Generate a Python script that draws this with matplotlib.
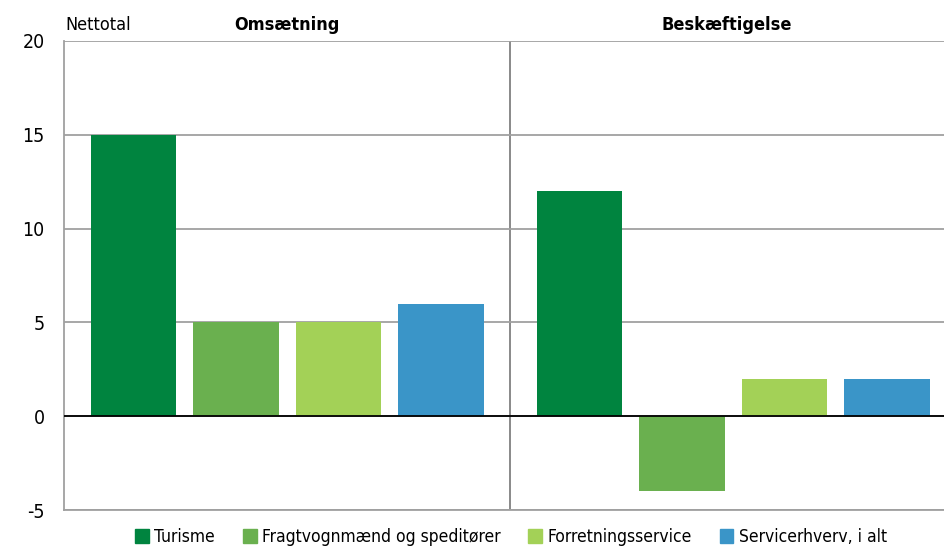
import numpy as np
import matplotlib.pyplot as plt
from matplotlib.patches import Patch

plt.rcParams['font.family'] = ['DejaVu Sans']
plt.rcParams['font.stretch'] = 'condensed'

groups = ["Omsætning", "Beskæftigelse"]
series = ["Turisme", "Fragtvognmænd og speditører", "Forretningsservice", "Servicerhverv, i alt"]
values = {
    "Omsætning": [15, 5, 5, 6],
    "Beskæftigelse": [12, -4, 2, 2],
}
colors = ["#00843f", "#6ab04f", "#a3d157", "#3a95c8"]
yticks = [-5, 0, 5, 10, 15, 20]

fig = plt.figure(figsize=(9.44, 5.47), dpi=100)
ax = fig.add_axes([64 / 944, 1 - 510 / 547, 880 / 944, 469 / 547])

group_offset = 4.351
width = 0.83
xmin, xmax = -0.678, 7.907
sep = 3.673
panel_centres = [(xmin + sep) / 2, (sep + xmax) / 2]
for g, name in enumerate(groups):
    x = np.arange(len(series)) + g * group_offset
    ax.bar(x, values[name], width=width, color=colors, zorder=2)
    ax.text(panel_centres[g], 20.6, name, ha="center", va="baseline",
            fontsize=13, fontweight="bold")

ax.set_xlim(xmin, xmax)
ax.set_ylim(-5, 20)
ax.set_yticks(yticks)
ax.set_yticklabels([str(t) for t in yticks], fontsize=14)
ax.tick_params(axis="y", length=0, pad=14)
ax.set_xticks([])
ax.grid(axis="y", color="#a0a0a0", linewidth=1.3, zorder=0)
ax.axhline(0, color="black", linewidth=1.3, zorder=3)
ax.axvline(sep, color="#808080", linewidth=1.3, zorder=1)

for side in ["top", "right"]:
    ax.spines[side].set_visible(False)
ax.spines["left"].set_color("#a0a0a0")
ax.spines["left"].set_linewidth(1.3)
ax.spines["bottom"].set_color("#a0a0a0")
ax.spines["bottom"].set_linewidth(1.3)

ax.text(0.002, 20.6, "Nettotal", transform=ax.get_yaxis_transform(),
        ha="left", va="baseline", fontsize=13)

handles = [Patch(color=c, label=s) for c, s in zip(colors, series)]
fig.legend(handles=handles, loc="center", bbox_to_anchor=(511 / 944, 1 - 537 / 547),
           ncol=4, frameon=False, fontsize=12.5, handlelength=0.8, handleheight=0.8,
           handletextpad=0.3, columnspacing=1.6, borderaxespad=0)

fig.savefig("out.png", dpi=100)
